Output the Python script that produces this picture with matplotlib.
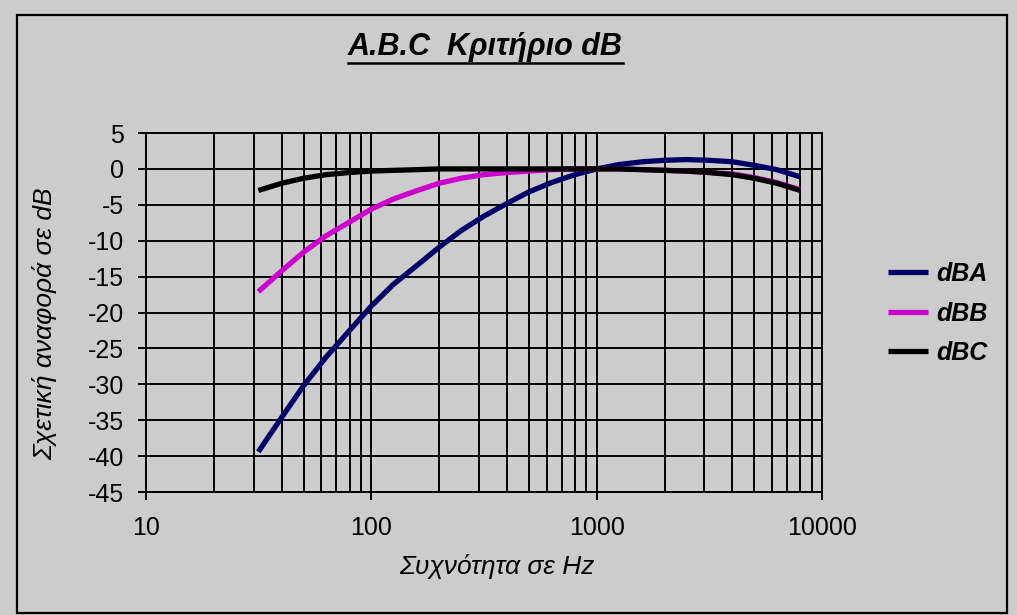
import matplotlib.pyplot as plt
from matplotlib.lines import Line2D
from matplotlib.patches import Rectangle
from matplotlib.ticker import FixedLocator, LogLocator, NullFormatter

plt.rcParams['font.family'] = ['Liberation Sans', 'DejaVu Sans']
plt.rcParams['axes.unicode_minus'] = False

# 1/3 octave band centre frequencies and weighting corrections
freq = [31.5, 40, 50, 63, 80, 100, 125, 160, 200, 250, 315, 400, 500, 630,
        800, 1000, 1250, 1600, 2000, 2500, 3150, 4000, 5000, 6300, 8000]
dBA = [-39.4, -34.6, -30.2, -26.2, -22.5, -19.1, -16.1, -13.4, -10.9, -8.6,
       -6.6, -4.8, -3.2, -1.9, -0.8, 0.0, 0.6, 1.0, 1.2, 1.3, 1.2, 1.0, 0.5,
       -0.1, -1.1]
dBB = [-17.1, -14.2, -11.6, -9.3, -7.4, -5.6, -4.2, -3.0, -2.0, -1.3, -0.8,
       -0.5, -0.3, -0.1, 0.0, 0.0, 0.0, -0.1, -0.2, -0.3, -0.5, -0.7, -1.2,
       -1.9, -2.9]
dBC = [-3.0, -2.0, -1.3, -0.8, -0.5, -0.3, -0.2, -0.1, 0.0, 0.0, 0.0, 0.0,
       0.0, 0.0, 0.0, 0.0, 0.0, -0.1, -0.2, -0.3, -0.5, -0.8, -1.3, -2.0, -3.0]

bg = '#cccccc'
fig = plt.figure(figsize=(10.17, 6.15), dpi=100, facecolor=bg)
ax = fig.add_axes([0.1436, 0.2, 0.6647, 0.5837], facecolor=bg)

ax.plot(freq, dBA, color='#000066', lw=3.8, label='dBA', solid_capstyle='butt')
ax.plot(freq, dBB, color='#cc00cc', lw=3.8, label='dBB', solid_capstyle='butt')
ax.plot(freq, dBC, color='black', lw=3.8, label='dBC', solid_capstyle='butt')

ax.set_xscale('log')
ax.set_xlim(10, 10000)
ax.set_ylim(-45, 5)
ax.xaxis.set_major_locator(FixedLocator([10, 100, 1000, 10000]))
ax.xaxis.set_minor_locator(LogLocator(base=10, subs=range(2, 10)))
ax.xaxis.set_minor_formatter(NullFormatter())
ax.set_xticklabels(['10', '100', '1000', '10000'])
ax.set_yticks(range(-45, 6, 5))

ax.grid(which='both', axis='x', color='black', lw=1.4)
ax.grid(which='major', axis='y', color='black', lw=1.4)
ax.set_axisbelow(True)
for s in ax.spines.values():
    s.set_color('black')
    s.set_linewidth(1.4)

ax.tick_params(axis='both', which='major', direction='out', length=6,
               width=1.4, labelsize=18, color='black')
ax.tick_params(axis='x', which='minor', length=0)
ax.tick_params(axis='x', pad=11)
ax.tick_params(axis='y', pad=10)

ax.set_xlabel('Συχνότητα σε Hz', fontsize=19, style='italic')
ax.xaxis.set_label_coords(0.519, -0.173)
ax.set_ylabel('Σχετική αναφορά σε dB', fontsize=19, style='italic')
ax.yaxis.set_label_coords(-0.131, 0.47)

leg = fig.legend(loc='center left', bbox_to_anchor=(0.851, 0.49),
                 frameon=False, handlelength=1.6, labelspacing=0.62,
                 handletextpad=0.35,
                 prop={'style': 'italic', 'weight': 'bold', 'size': 18})

title = fig.text(0.477, 0.91, 'A.B.C  Κριτήριο dB', ha='center',
                 va='baseline', fontsize=22, style='italic', weight='bold')

# underline under the title
fig.canvas.draw()
bb = title.get_window_extent(fig.canvas.get_renderer())
W, H = fig.bbox.width, fig.bbox.height
uy = (bb.y0 - 1) / H
fig.add_artist(Line2D([bb.x0 / W, bb.x1 / W], [uy, uy], color='black',
                      lw=1.8, transform=fig.transFigure))

# chart border
fig.add_artist(Rectangle((17 / 1017, 2 / 615), 990 / 1017, 598 / 615,
                         transform=fig.transFigure, fill=False,
                         edgecolor='black', lw=1.6))

fig.savefig('out.png', dpi=100, facecolor=bg)
